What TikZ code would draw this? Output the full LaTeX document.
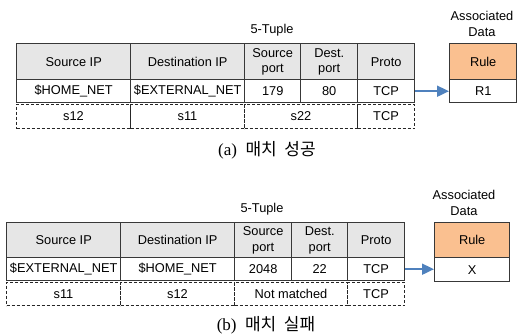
\documentclass[tikz,border=0pt]{standalone}
\usepackage{fontspec}
\setmainfont{Liberation Sans}
\newfontfamily\cjk{Noto Sans CJK KR}
\newfontfamily\capfont{Liberation Serif}
\usetikzlibrary{arrows.meta}
\definecolor{rulefill}{HTML}{FAC090}
\definecolor{headfill}{HTML}{E6E6E6}
\definecolor{arrowblue}{HTML}{4F81BD}
\definecolor{linegray}{HTML}{383838}
\begin{document}
\begin{tikzpicture}[x=1pt,y=-1pt,
  txt/.style={font=\fontsize{12.8}{15.5}\selectfont},
  cell/.style={txt, draw=linegray, line width=1.4pt, anchor=north west, inner sep=0pt, align=center},
  headcell/.style={cell, fill=headfill},
  rulecell/.style={cell, fill=rulefill},
  dcell/.style={txt, draw=black!85, line width=1pt, dash pattern=on 3pt off 2pt, anchor=north west, inner sep=0pt, align=center},
  conn/.style={draw=arrowblue, line width=1.8pt, -{Triangle[length=12pt,width=11pt]}},
  caption/.style={font=\fontsize{17}{19}\selectfont}
]
\useasboundingbox (0,0) rectangle (517,335);

% ---------- (a) ----------
\node[txt] (ta) at (272,30) {5-Tuple};
\node[txt, align=center] (ada) at (482,24) {Associated\\Data};

\node[dcell, minimum width=114, minimum height=24.5] (a31) at (16,103.5) {s12};
\node[dcell, minimum width=114, minimum height=24.5] (a32) at (130,103.5) {s11};
\node[dcell, minimum width=113, minimum height=24.5] (a33) at (244,103.5) {s22};
\node[dcell, minimum width=57, minimum height=24.5] (a34) at (357,103.5) {TCP};

\node[headcell, minimum width=114, minimum height=36] (a11) at (16,43) {Source IP};
\node[headcell, minimum width=114, minimum height=36] (a12) at (130,43) {Destination IP};
\node[headcell, minimum width=56, minimum height=36] (a13) at (244,43) {Source\\port};
\node[headcell, minimum width=57, minimum height=36] (a14) at (300,43) {Dest.\\port};
\node[headcell, minimum width=57, minimum height=36] (a15) at (357,43) {Proto};

\node[cell, minimum width=114, minimum height=23] (a21) at (16,79) {\$HOME\_NET};
\node[cell, minimum width=114, minimum height=23] (a22) at (130,79) {\$EXTERNAL\_NET};
\node[cell, minimum width=56, minimum height=23] (a23) at (244,79) {179};
\node[cell, minimum width=57, minimum height=23] (a24) at (300,79) {80};
\node[cell, minimum width=57, minimum height=23] (a25) at (357,79) {TCP};

\node[rulecell, minimum width=67, minimum height=36] (ra1) at (449,43) {Rule};
\node[cell, minimum width=67, minimum height=23] (ra2) at (449,79) {R1};

\draw[conn] (a25.east) -- (ra2.west);

\node[caption] (ca) at (267,150) {\capfont (a)~~{\cjk 매치~~성공}};

% ---------- (b) ----------
\node[txt] (tb) at (262,209) {5-Tuple};
\node[txt, align=center] (adb) at (464,203) {Associated\\Data};

\node[dcell, minimum width=114, minimum height=23.5] (b31) at (6,281.5) {s11};
\node[dcell, minimum width=114, minimum height=23.5] (b32) at (120,281.5) {s12};
\node[dcell, minimum width=113, minimum height=23.5] (b33) at (234,281.5) {Not matched};
\node[dcell, minimum width=57, minimum height=23.5] (b34) at (347,281.5) {TCP};

\node[headcell, minimum width=114, minimum height=35] (b11) at (6,222) {Source IP};
\node[headcell, minimum width=114, minimum height=35] (b12) at (120,222) {Destination IP};
\node[headcell, minimum width=57, minimum height=35] (b13) at (234,222) {Source\\port};
\node[headcell, minimum width=56, minimum height=35] (b14) at (291,222) {Dest.\\port};
\node[headcell, minimum width=57, minimum height=35] (b15) at (347,222) {Proto};

\node[cell, minimum width=114, minimum height=23] (b21) at (6,257) {\$EXTERNAL\_NET};
\node[cell, minimum width=114, minimum height=23] (b22) at (120,257) {\$HOME\_NET};
\node[cell, minimum width=57, minimum height=23] (b23) at (234,257) {2048};
\node[cell, minimum width=56, minimum height=23] (b24) at (291,257) {22};
\node[cell, minimum width=57, minimum height=23] (b25) at (347,257) {TCP};

\node[rulecell, minimum width=75, minimum height=35] (rb1) at (434,222) {Rule};
\node[cell, minimum width=75, minimum height=24] (rb2) at (434,257) {X};

\draw[conn] (b25.east) -- (b25.east -| rb2.west);

\node[caption] (cb) at (266,325) {\capfont (b)~~{\cjk 매치~~실패}};
\end{tikzpicture}
\end{document}
